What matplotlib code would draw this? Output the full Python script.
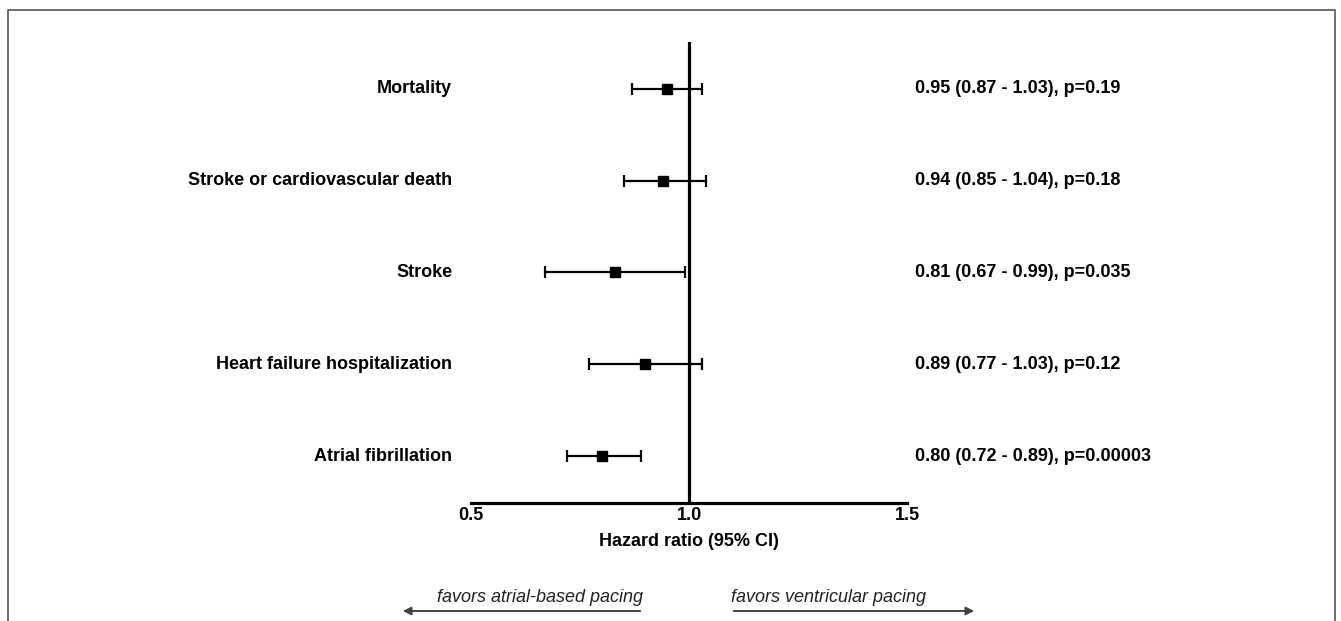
import matplotlib
matplotlib.use('Agg')
import matplotlib.pyplot as plt
from matplotlib.lines import Line2D

plt.rcParams['font.family'] = ['Liberation Sans', 'DejaVu Sans']

# outcomes, top to bottom
outcomes = ['Mortality', 'Stroke or cardiovascular death', 'Stroke',
            'Heart failure hospitalization', 'Atrial fibrillation']
hr = [0.95, 0.94, 0.83, 0.90, 0.80]
ci_low = [0.87, 0.85, 0.67, 0.77, 0.72]
ci_high = [1.03, 1.04, 0.99, 1.03, 0.89]
summary = ['0.95 (0.87 - 1.03), p=0.19',
           '0.94 (0.85 - 1.04), p=0.18',
           '0.81 (0.67 - 0.99), p=0.035',
           '0.89 (0.77 - 1.03), p=0.12',
           '0.80 (0.72 - 0.89), p=0.00003']
xticks = [0.5, 1.0, 1.5]
xticklabels = ['0.5', '1.0', '1.5']

W, H = 1341, 621
fig = plt.figure(figsize=(W / 100, H / 100), dpi=100)
ax = fig.add_axes([471 / W, 118 / H, 436 / W, 461 / H])

ypos = list(range(len(outcomes), 0, -1))
err = [[h - lo for h, lo in zip(hr, ci_low)], [hi - h for h, hi in zip(hr, ci_high)]]
ax.errorbar(hr, ypos, xerr=err, fmt='s', color='black', ms=7.5, elinewidth=1.6,
            capsize=4, capthick=1.6, zorder=3)
ax.axvline(1.0, color='black', lw=2.3, zorder=2)

ax.set_xlim(0.5, 1.5)
ax.set_ylim(0.488, 5.512)
for s in ['top', 'right', 'left']:
    ax.spines[s].set_visible(False)
ax.spines['bottom'].set_linewidth(2.3)
ax.set_yticks([])
ax.set_xticks(xticks)
ax.set_xticklabels(xticklabels, fontsize=13, fontweight='bold')
ax.tick_params(axis='x', length=0, pad=3)
ax.set_xlabel('Hazard ratio (95% CI)', fontsize=13, fontweight='bold', labelpad=6)

tr = ax.get_yaxis_transform()
for y, name, s in zip(ypos, outcomes, summary):
    ax.text(-0.043, y, name, transform=tr, ha='right', va='center',
            fontsize=13, fontweight='bold')
    ax.text(1.018, y, s, transform=tr, ha='left', va='center',
            fontsize=13, fontweight='bold')

# direction arrows below the axis (figure pixel coords)
def px(x, y):
    return (x / W, 1 - y / H)

ay = 611
ax_arrow = dict(arrowstyle='-|>', color='#444444', lw=1.4, mutation_scale=12)
fig.add_artist(matplotlib.patches.FancyArrowPatch(px(643, ay), px(400, ay),
               transform=fig.transFigure, **ax_arrow))
fig.add_artist(matplotlib.patches.FancyArrowPatch(px(731, ay), px(977, ay),
               transform=fig.transFigure, **ax_arrow))
fig.text(*px(643, 598), 'favors atrial-based pacing', ha='right', va='center',
         fontsize=13, style='italic', color='#222222')
fig.text(*px(731, 598), 'favors ventricular pacing', ha='left', va='center',
         fontsize=13, style='italic', color='#222222')

# frame around the panel (bottom edge is cut off)
fx = [8 / W, 8 / W, 1335 / W, 1335 / W]
fy = [0, 1 - 10 / H, 1 - 10 / H, 0]
fig.add_artist(Line2D(fx, fy, transform=fig.transFigure, color='#555555', lw=1.2))

fig.savefig('out.png', dpi=100)
